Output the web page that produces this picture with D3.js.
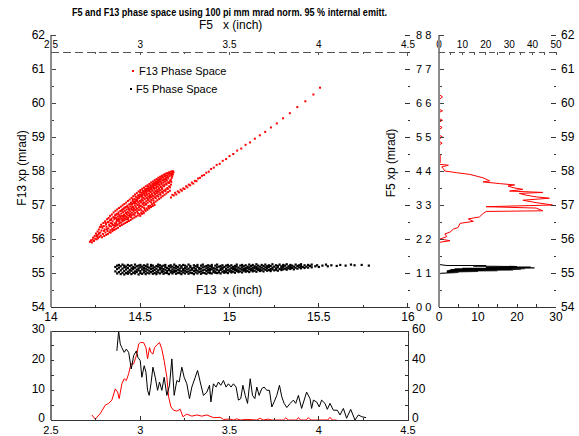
<!DOCTYPE html>
<html>
<head>
<meta charset="utf-8">
<script src="https://cdn.jsdelivr.net/npm/d3@7"></script>
<style>
body { margin: 0; background: #fff; }
text { font-family: "Liberation Sans", Arial, sans-serif; fill: #000; }
</style>
</head>
<body>
<script>
// ---- data ----
const titleText = "F5 and F13 phase space using 100 pi mm mrad norm. 95 % internal emitt.";
const mainYTicks = [54, 55, 56, 57, 58, 59, 60, 61, 62];
const mainXTicks = [14, 14.5, 15, 15.5, 16];
const topXTicks = [2.5, 3, 3.5, 4, 4.5];
const rightTickLabels = ["0 0", "1 1", "2 2", "3 3", "4 4", "5 5", "6 6", "7 7", "8 8"];
const sideTopTicks = [0, 10, 20, 30, 40, 50];
const sideBotTicks = [0, 10, 20, 30];
const histXTicks = [2.5, 3, 3.5, 4, 4.5];
const histLeftTicks = [0, 10, 20, 30];
const histRightTicks = [0, 20, 40, 60];

// F13 phase space (x inch, xp mrad)
const f13Points = [
[14.218,55.92],[14.224,55.96],[14.229,55.90],[14.233,55.98],[14.236,56.04],[14.241,55.94],[14.245,56.09],[14.247,56.01],
[14.252,56.16],[14.255,55.99],[14.258,56.07],[14.261,56.22],[14.263,56.02],[14.266,56.13],[14.268,56.28],[14.271,56.06],
[14.274,56.35],[14.276,56.19],[14.279,56.10],[14.281,56.42],[14.283,56.25],[14.286,56.05],[14.288,56.33],[14.291,56.15],
[14.293,56.47],[14.296,56.38],[14.298,56.09],[14.301,56.28],[14.303,56.52],[14.305,56.19],[14.308,56.43],[14.309,56.12],
[14.311,56.36],[14.314,56.58],[14.316,56.24],[14.318,56.49],[14.319,56.15],[14.321,56.31],[14.323,56.62],[14.326,56.42],
[14.327,56.20],[14.329,56.55],[14.331,56.68],[14.333,56.26],[14.335,56.47],[14.337,56.37],[14.339,56.60],[14.334,56.19],
[14.341,56.72],[14.343,56.30],[14.345,56.52],[14.347,56.41],[14.349,56.64],[14.344,56.23],[14.351,56.78],[14.353,56.34],
[14.355,56.58],[14.357,56.46],[14.359,56.69],[14.356,56.27],[14.361,56.83],[14.362,56.38],[14.364,56.62],[14.366,56.50],
[14.368,56.74],[14.365,56.30],[14.369,56.56],[14.371,56.87],[14.372,56.41],[14.374,56.66],[14.376,56.54],[14.378,56.78],
[14.375,56.33],[14.379,56.60],[14.381,56.91],[14.382,56.45],[14.384,56.70],[14.386,56.38],[14.388,56.82],[14.385,56.57],
[14.389,56.63],[14.391,56.95],[14.392,56.48],[14.394,56.75],[14.396,56.41],[14.398,56.86],[14.395,56.60],[14.397,56.68],
[14.401,56.99],[14.402,56.52],[14.404,56.79],[14.406,56.44],[14.408,56.90],[14.405,56.64],[14.409,56.72],[14.403,56.58],
[14.411,57.03],[14.412,56.55],[14.414,56.83],[14.416,56.47],[14.418,56.94],[14.415,56.68],[14.419,56.76],[14.413,56.61],
[14.421,57.07],[14.422,56.58],[14.424,56.87],[14.426,56.50],[14.428,56.98],[14.425,56.72],[14.429,56.80],[14.423,56.65],
[14.431,57.12],[14.432,56.62],[14.434,56.92],[14.436,56.53],[14.438,57.02],[14.435,56.77],[14.439,56.85],[14.433,56.69],
[14.441,57.16],[14.442,56.66],[14.444,56.96],[14.446,56.56],[14.448,57.07],[14.445,56.81],[14.449,56.89],[14.443,56.73],
[14.451,57.21],[14.452,56.70],[14.454,57.01],[14.456,56.60],[14.458,57.12],[14.455,56.86],[14.459,56.94],[14.453,56.77],[14.457,57.05],
[14.461,57.26],[14.462,56.73],[14.464,57.06],[14.466,56.63],[14.468,57.17],[14.465,56.90],[14.469,56.99],[14.463,56.81],[14.467,57.10],
[14.471,57.31],[14.472,56.77],[14.474,57.11],[14.476,56.66],[14.478,57.22],[14.475,56.95],[14.479,57.04],[14.473,56.85],[14.477,57.15],
[14.481,57.35],[14.482,56.81],[14.484,57.16],[14.486,56.69],[14.488,57.27],[14.485,57.00],[14.489,57.08],[14.483,56.89],[14.487,57.20],
[14.491,57.40],[14.492,56.85],[14.494,57.21],[14.496,56.73],[14.498,57.31],[14.495,57.04],[14.499,57.12],[14.493,56.93],[14.497,57.25],
[14.501,57.44],[14.502,56.89],[14.504,57.26],[14.506,56.77],[14.508,57.36],[14.505,57.08],[14.509,57.17],[14.503,56.97],[14.507,57.30],[14.500,56.68],
[14.511,57.48],[14.512,56.94],[14.514,57.30],[14.516,56.81],[14.518,57.40],[14.515,57.13],[14.519,57.21],[14.513,57.02],[14.517,57.35],[14.510,56.74],
[14.521,57.51],[14.522,56.99],[14.524,57.34],[14.526,56.86],[14.528,57.44],[14.525,57.17],[14.529,57.26],[14.523,57.07],[14.527,57.39],[14.520,56.76],
[14.531,57.55],[14.532,57.03],[14.534,57.38],[14.536,56.90],[14.538,57.48],[14.535,57.21],[14.539,57.30],[14.533,57.11],[14.537,57.43],[14.530,56.82],
[14.541,57.58],[14.542,57.07],[14.544,57.42],[14.546,56.94],[14.548,57.52],[14.545,57.25],[14.549,57.34],[14.543,57.15],[14.547,57.47],[14.540,56.86],
[14.551,57.62],[14.552,57.11],[14.554,57.46],[14.556,56.98],[14.558,57.56],[14.555,57.29],[14.559,57.38],[14.553,57.19],[14.557,57.51],[14.550,56.90],
[14.561,57.66],[14.562,57.15],[14.564,57.50],[14.566,57.02],[14.568,57.60],[14.565,57.33],[14.569,57.42],[14.563,57.23],[14.567,57.55],[14.560,56.94],
[14.571,57.69],[14.572,57.19],[14.574,57.54],[14.576,57.06],[14.578,57.64],[14.575,57.37],[14.579,57.46],[14.573,57.27],[14.577,57.59],[14.570,56.97],
[14.581,57.73],[14.582,57.23],[14.584,57.58],[14.586,57.10],[14.588,57.68],[14.585,57.41],[14.589,57.50],[14.583,57.31],[14.587,57.63],[14.580,57.00],
[14.591,57.76],[14.592,57.27],[14.594,57.62],[14.596,57.14],[14.598,57.71],[14.595,57.45],[14.599,57.54],[14.593,57.35],[14.597,57.67],
[14.601,57.80],[14.602,57.31],[14.604,57.66],[14.606,57.18],[14.608,57.75],[14.605,57.49],[14.609,57.58],[14.603,57.39],[14.607,57.71],
[14.611,57.83],[14.612,57.35],[14.614,57.70],[14.616,57.22],[14.618,57.78],[14.615,57.53],[14.619,57.62],[14.613,57.43],
[14.621,57.86],[14.622,57.39],[14.624,57.73],[14.626,57.26],[14.628,57.81],[14.625,57.57],[14.629,57.66],[14.623,57.47],
[14.631,57.89],[14.632,57.42],[14.634,57.76],[14.636,57.30],[14.638,57.84],[14.635,57.60],[14.639,57.69],
[14.641,57.92],[14.642,57.46],[14.644,57.79],[14.646,57.34],[14.648,57.87],[14.645,57.63],[14.649,57.72],
[14.651,57.94],[14.652,57.50],[14.654,57.82],[14.656,57.38],[14.658,57.90],[14.655,57.66],
[14.661,57.96],[14.662,57.55],[14.664,57.85],[14.666,57.42],[14.668,57.92],[14.665,57.70],
[14.671,57.98],[14.672,57.60],[14.674,57.88],[14.676,57.80],[14.678,57.95],[14.681,58.00],[14.683,57.90],[14.686,57.96],
[14.672,57.22],[14.680,57.30],[14.688,57.28],[14.695,57.36],[14.702,57.31],[14.710,57.40],[14.718,57.37],[14.726,57.45],
[14.733,57.42],[14.741,57.49],[14.748,57.47],[14.757,57.55],[14.764,57.52],[14.772,57.60],[14.780,57.58],[14.789,57.66],
[14.797,57.63],[14.806,57.71],[14.815,57.70],[14.824,57.78],[14.835,57.80],[14.846,57.86],[14.858,57.88],[14.870,57.95],
[14.884,57.98],[14.897,58.06],[14.912,58.10],[14.928,58.18],[14.945,58.21],[14.962,58.30],[14.981,58.35],[15.000,58.44],
[15.021,58.50],[15.043,58.60],[15.066,58.66],[15.090,58.77],[15.115,58.84],[15.142,58.95],[15.170,59.05],[15.200,59.15],
[15.232,59.28],[15.265,59.40],[15.300,59.55],[15.338,59.70],[15.380,59.88],[15.425,60.05],[15.470,60.25],[15.507,60.45]
];
// more F13 points inside the dense core
const f13Core = [
[14.257,56.11],[14.269,56.17],[14.284,56.37],[14.297,56.24],[14.306,56.47],[14.313,56.29],[14.322,56.50],[14.328,56.38],
[14.336,56.56],[14.342,56.45],[14.348,56.27],[14.354,56.63],[14.358,56.40],[14.363,56.71],[14.367,56.44],[14.373,56.58],
[14.377,56.73],[14.383,56.51],[14.387,56.66],[14.393,56.83],[14.399,56.55],[14.403,56.87],[14.407,56.68],[14.413,56.92],
[14.417,56.59],[14.422,56.77],[14.427,56.95],[14.431,56.58],[14.436,56.88],[14.441,56.70],[14.446,57.03],[14.449,56.64],
[14.453,56.93],[14.458,57.17],[14.462,56.86],[14.467,56.71],[14.471,57.06],[14.474,57.25],[14.479,56.90],[14.483,57.12],
[14.487,56.76],[14.491,57.29],[14.495,56.98],[14.499,57.38],[14.503,57.13],[14.506,56.84],[14.511,57.24],[14.514,57.42],
[14.518,57.06],[14.522,56.91],[14.526,57.29],[14.529,57.47],[14.533,57.01],[14.536,57.34],[14.541,57.19],[14.544,57.54],
[14.547,56.97],[14.551,57.41],[14.554,57.24],[14.557,57.58],[14.561,57.08],[14.564,57.45],[14.567,57.28],[14.571,57.62],
[14.574,57.13],[14.577,57.50],[14.581,57.35],[14.584,57.67],[14.587,57.20],[14.591,57.56],[14.594,57.40],[14.597,57.74],
[14.601,57.25],[14.604,57.61],[14.607,57.44],[14.611,57.76],[14.614,57.30],[14.617,57.66],[14.621,57.50],[14.624,57.82],
[14.627,57.36],[14.631,57.72],[14.634,57.55],[14.637,57.88],[14.641,57.41],[14.644,57.75],[14.647,57.60],[14.651,57.86],
[14.654,57.47],[14.657,57.78],[14.661,57.65],[14.664,57.93],[14.667,57.52],[14.671,57.74],[14.674,57.68],[14.677,57.92],
[14.679,57.84],[14.684,57.97]
];

// F5 phase space, one column per x: [x, xp, xp, ...]
const f5Columns = [
[14.36,55.05,55.18],[14.37,54.99,55.12,55.22],[14.38,55.03,55.16,55.24],[14.39,54.97,55.08,55.20],[14.40,55.01,55.13,55.25],
[14.41,54.96,55.06,55.17,55.22],[14.42,55.00,55.11,55.19],[14.43,54.98,55.04,55.15,55.24],[14.44,55.02,55.09,55.21],
[14.45,54.97,55.07,55.14,55.23],[14.46,55.01,55.12,55.18],[14.47,54.99,55.05,55.16,55.25],[14.48,55.03,55.10,55.20],
[14.49,54.96,55.08,55.14,55.22],[14.50,55.00,55.06,55.17,55.24],[14.51,54.98,55.11,55.19],[14.52,55.02,55.08,55.15,55.23],
[14.53,54.97,55.05,55.13,55.21],[14.54,55.01,55.10,55.18,55.25],[14.55,54.99,55.07,55.16],[14.56,55.03,55.12,55.20,55.24],
[14.57,54.98,55.06,55.14,55.22],[14.58,55.00,55.09,55.17],[14.59,54.97,55.04,55.13,55.21],[14.60,55.02,55.08,55.19,55.25],
[14.61,54.99,55.11,55.16,55.23],[14.62,55.03,55.07,55.14,55.20],[14.63,54.98,55.05,55.12,55.22],[14.64,55.01,55.10,55.18,55.24],
[14.65,55.00,55.06,55.15],[14.66,54.97,55.09,55.13,55.21],[14.67,55.02,55.07,55.17,55.23],[14.68,54.99,55.04,55.11,55.19],
[14.69,55.03,55.08,55.16,55.25],[14.70,54.98,55.06,55.14,55.21],[14.71,55.01,55.10,55.18],[14.72,55.00,55.07,55.13,55.23],
[14.73,54.97,55.05,55.16,55.20],[14.74,55.02,55.09,55.12,55.24],[14.75,54.99,55.07,55.15,55.22],[14.76,55.03,55.11,55.19],
[14.77,54.98,55.05,55.13,55.25],[14.78,55.01,55.08,55.17,55.21],[14.79,55.00,55.10,55.14],[14.80,54.97,55.06,55.16,55.23],
[14.81,55.02,55.09,55.12,55.20],[14.82,54.99,55.07,55.18,55.24],[14.83,55.03,55.11,55.15],[14.84,54.98,55.05,55.13,55.22],
[14.85,55.01,55.08,55.17,55.25],[14.86,55.00,55.10,55.19],[14.87,54.98,55.06,55.14,55.21],[14.88,55.02,55.09,55.16,55.23],
[14.89,55.00,55.07,55.12,55.20],[14.90,54.99,55.11,55.18,55.24],[14.91,55.03,55.08,55.15],[14.92,55.01,55.05,55.13,55.22],
[14.93,55.00,55.10,55.17,55.25],[14.94,55.02,55.07,55.19],[14.95,54.99,55.09,55.14,55.21],[14.96,55.04,55.12,55.16,55.23],
[14.97,55.01,55.06,55.18],[14.98,55.03,55.10,55.13,55.22],[14.99,55.00,55.08,55.17,55.24],[15.00,55.05,55.11,55.20],
[15.01,55.02,55.07,55.15,55.23],[15.02,55.04,55.12,55.18],[15.03,55.01,55.09,55.14,55.21],[15.04,55.06,55.11,55.19,55.25],
[15.05,55.03,55.08,55.16],[15.06,55.05,55.13,55.22],[15.07,55.02,55.10,55.17,55.24],[15.08,55.07,55.12,55.20],
[15.09,55.04,55.09,55.15,55.23],[15.10,55.06,55.14,55.19],[15.11,55.03,55.11,55.17,55.25],[15.12,55.08,55.13,55.21],
[15.13,55.05,55.10,55.16,55.24],[15.14,55.07,55.15,55.20],[15.15,55.04,55.12,55.18,55.26],[15.16,55.09,55.14,55.22],
[15.17,55.06,55.11,55.19],[15.18,55.08,55.16,55.24],[15.19,55.05,55.13,55.21],[15.20,55.10,55.17,55.25],
[15.21,55.07,55.14,55.20],[15.22,55.09,55.18,55.23],[15.23,55.06,55.12,55.21],[15.24,55.11,55.16,55.26],
[15.25,55.08,55.19],[15.26,55.10,55.14,55.23],[15.27,55.07,55.17,55.21],[15.28,55.12,55.25],[15.29,55.09,55.15,55.20],
[15.30,55.11,55.18,55.24],[15.31,55.13,55.22],[15.32,55.10,55.16,55.26],[15.33,55.14,55.20],[15.34,55.12,55.18,55.24],
[15.35,55.15,55.22],[15.36,55.11,55.19],[15.37,55.16,55.25],[15.38,55.13,55.21],[15.39,55.17,55.23],[15.40,55.14,55.20,55.26],
[15.41,55.18],[15.42,55.15,55.23],[15.43,55.19],[15.44,55.16,55.24],[15.45,55.21],[15.46,55.17,55.25],[15.48,55.20],
[15.49,55.23],[15.50,55.18],[15.52,55.22],[15.54,55.25],[15.55,55.20],[15.57,55.23],[15.60,55.21],[15.62,55.24],
[15.65,55.22],[15.68,55.25],[15.70,55.23],[15.74,55.24],[15.78,55.22]
];

// bottom histograms (x inch, counts on left scale)
const histRed = [
[2.729,1.7],[2.748,0.3],[2.776,2.2],[2.804,5.0],[2.823,5.6],[2.841,6.7],[2.860,10.5],[2.873,9.4],[2.882,7.2],[2.897,12.2],
[2.910,13.9],[2.922,13.3],[2.935,15.6],[2.948,18.9],[2.963,18.9],[2.972,20.6],[2.981,22.2],[2.991,25.6],[3.000,26.1],[3.019,26.1],
[3.032,24.4],[3.041,20.6],[3.052,24.4],[3.060,22.8],[3.071,22.2],[3.080,24.4],[3.093,25.3],[3.108,26.1],[3.121,23.9],[3.134,20.0],
[3.149,14.4],[3.159,7.8],[3.172,4.4],[3.187,3.3],[3.205,3.0],[3.224,3.6],[3.239,1.1],[3.261,2.0],[3.289,1.3],[3.317,1.7],
[3.345,1.3],[3.373,1.7],[3.410,0.8],[3.448,0.9],[3.466,0.2],[3.504,0.3],[3.522,0],[3.541,0.4],[3.560,0],[3.597,0.2],
[3.653,0],[3.672,0.6],[3.690,0],[3.718,0.3],[3.737,0],[3.802,0],[3.815,0.7],[3.830,0],[3.875,0],[3.886,0.8],[3.898,0],
[3.930,0],[3.942,0.8],[3.955,0],[4.050,0],[4.063,0.9],[4.076,0],[4.100,0]
];
const histBlack = [
[2.869,23.3],[2.879,30.0],[2.888,25.6],[2.897,24.4],[2.910,22.8],[2.922,23.9],[2.935,22.8],[2.950,17.2],[2.963,21.7],[2.978,23.3],
[2.987,21.1],[3.000,20.0],[3.009,14.4],[3.022,18.3],[3.032,16.1],[3.041,10.0],[3.050,8.3],[3.060,12.2],[3.071,17.8],[3.084,14.4],
[3.097,10.0],[3.108,12.8],[3.121,10.0],[3.134,14.4],[3.149,8.3],[3.164,11.7],[3.177,20.6],[3.190,8.3],[3.205,13.3],[3.218,12.8],
[3.233,17.8],[3.246,14.4],[3.261,12.2],[3.276,7.2],[3.289,11.1],[3.308,14.4],[3.321,16.7],[3.336,12.8],[3.354,8.3],[3.373,9.4],
[3.388,11.7],[3.396,6.1],[3.410,12.2],[3.425,11.1],[3.438,12.8],[3.451,11.7],[3.466,13.3],[3.481,11.1],[3.494,12.2],[3.509,11.1],
[3.522,12.2],[3.537,11.1],[3.550,6.7],[3.563,7.2],[3.575,11.7],[3.588,8.3],[3.601,5.6],[3.616,13.9],[3.629,8.3],[3.642,7.2],
[3.653,11.1],[3.666,8.3],[3.681,10.6],[3.694,11.1],[3.709,10.0],[3.724,10.0],[3.737,4.4],[3.750,6.1],[3.765,8.3],[3.780,11.7],
[3.793,7.8],[3.806,5.6],[3.821,4.2],[3.840,5.6],[3.858,6.7],[3.871,5.6],[3.886,8.3],[3.904,3.9],[3.932,9.4],[3.951,7.2],
[3.960,3.9],[3.970,6.7],[3.988,6.1],[4.003,4.4],[4.016,6.7],[4.035,5.6],[4.048,3.6],[4.063,5.6],[4.082,3.3],[4.104,3.3],
[4.119,1.7],[4.138,3.9],[4.156,0.6],[4.179,3.6],[4.203,0],[4.222,1.7],[4.241,1.1],[4.265,0.8]
];

// side histograms (xp mrad, counts)
const sideRed = [
[60.25,0],[60.18,0.9],[60.10,0],[59.82,0],[59.77,0.9],[59.72,0],[59.55,0],[59.49,0.9],[59.43,0],[59.33,0],[59.28,0.8],
[59.22,0],[59.06,0],[59.00,0.9],[58.94,0],[58.88,0],[58.82,0.8],[58.76,0],[58.50,0],[58.48,0.3],[58.25,0.3],[58.20,0],
[58.17,2.4],[58.12,0.7],[58.07,1.1],[58.00,1.5],[57.95,4.5],[57.90,7.9],[57.80,11.3],[57.71,13.0],[57.68,11.3],[57.63,15.5],
[57.59,19.4],[57.56,17.7],[57.51,19.0],[57.46,21.5],[57.41,18.1],[57.37,26.6],[57.34,20.6],[57.29,22.3],[57.24,24.9],
[57.20,28.3],[57.14,21.5],[57.07,24.9],[57.00,29.1],[56.95,12.1],[56.91,24.9],[56.83,26.6],[56.81,12.1],[56.75,11.3],
[56.65,10.4],[56.59,7.5],[56.52,8.8],[56.46,5.4],[56.34,4.9],[56.29,3.7],[56.20,2.8],[56.15,1.5],[56.07,2.0],[56.00,0.3],
[55.95,2.8],[55.90,0]
];
const sideBlack = [
[55.25,0],[55.22,2.0],[55.22,12.1],[55.20,8.8],[55.19,20.0],[55.18,14.0],[55.17,23.5],[55.16,12.0],[55.15,24.5],[55.14,6.0],
[55.13,22.0],[55.12,4.0],[55.11,21.0],[55.10,3.0],[55.09,19.0],[55.08,2.5],[55.07,15.0],[55.06,2.0],[55.05,10.0],[55.03,2.0],
[55.02,5.0],[55.00,2.0],[54.99,0.5],[54.97,0]
];

// ---- scales ----
const W = 579, H = 436;
const svg = d3.select("body").append("svg").attr("width", W).attr("height", H);

const xMain = d3.scaleLinear().domain([14, 16]).range([51, 408]);
const yMain = d3.scaleLinear().domain([54, 62]).range([307, 35]);
const xTop = d3.scaleLinear().domain([2.5, 4.5]).range([51, 408]);
const xSideTop = d3.scaleLinear().domain([0, 50]).range([439, 556]);
const xSideBot = d3.scaleLinear().domain([0, 30]).range([439, 556]);
const xHist = d3.scaleLinear().domain([2.5, 4.5]).range([51, 408]);
const yHistL = d3.scaleLinear().domain([0, 30]).range([420, 331]);
const yHistR = d3.scaleLinear().domain([0, 60]).range([420, 331]);

// ---- helpers ----
function hTicks(vals, scale, y, len, color) {   // ticks on a horizontal axis
  svg.append("g").selectAll("line").data(vals).join("line")
    .attr("x1", d => scale(d)).attr("x2", d => scale(d))
    .attr("y1", y).attr("y2", y + len)
    .attr("stroke", color || "#222").attr("shape-rendering", "crispEdges");
}
function vTicks(vals, scale, x, len, color) {   // ticks on a vertical axis
  svg.append("g").selectAll("line").data(vals).join("line")
    .attr("y1", d => scale(d)).attr("y2", d => scale(d))
    .attr("x1", x).attr("x2", x + len)
    .attr("stroke", color || "#222").attr("shape-rendering", "crispEdges");
}
function hLabels(vals, scale, y, size, fmt) {
  svg.append("g").selectAll("text").data(vals).join("text")
    .attr("x", d => scale(d)).attr("y", y)
    .attr("text-anchor", "middle").attr("font-size", size)
    .text(fmt || (d => d));
}
function vLabels(vals, scale, x, anchor, size, fmt, dy) {
  svg.append("g").selectAll("text").data(vals).join("text")
    .attr("x", x).attr("y", d => scale(d)).attr("dy", dy || "0.35em")
    .attr("text-anchor", anchor).attr("font-size", size)
    .text(fmt || (d => d));
}
function seg(x1, y1, x2, y2, color, w, dash) {
  const l = svg.append("line").attr("x1", x1).attr("y1", y1).attr("x2", x2).attr("y2", y2)
    .attr("stroke", color).attr("stroke-width", w || 1).attr("shape-rendering", "crispEdges");
  if (dash) l.attr("stroke-dasharray", dash);
}
const halves = (a, b) => d3.range(a, b + 0.001, 0.5);
const quarters = (a, b) => d3.range(a, b + 0.001, 0.25);

// ---- title & axis titles ----
svg.append("text").attr("x", 72).attr("y", 16).attr("font-size", 10).attr("font-weight", "bold")
  .attr("textLength", 315).attr("lengthAdjust", "spacingAndGlyphs").text(titleText);
svg.append("text").attr("x", 199).attr("y", 29).attr("font-size", 12).text("F5");
svg.append("text").attr("x", 223).attr("y", 29).attr("font-size", 12).text("x (inch)");
svg.append("text").attr("x", 196).attr("y", 294).attr("font-size", 12).text("F13");
svg.append("text").attr("x", 223).attr("y", 294).attr("font-size", 12).text("x (inch)");
svg.append("text").attr("transform", "translate(26,168) rotate(-90)")
  .attr("text-anchor", "middle").attr("font-size", 12).text("F13  xp (mrad)");
svg.append("text").attr("transform", "translate(395,163) rotate(-90)")
  .attr("text-anchor", "middle").attr("font-size", 12).text("F5  xp (mrad)");

// ---- main scatter panel ----
vLabels(mainYTicks, yMain, 45, "end", 12);
hLabels(mainXTicks, xMain, 321, 12);
hLabels(topXTicks, xTop, 48, 10);
vLabels(d3.range(0, 9), d => yMain(d + 54), 416, "start", 11, d => rightTickLabels[d]);

// legend
svg.append("rect").attr("x", 132).attr("y", 70).attr("width", 2).attr("height", 2).attr("fill", "#ff0000");
svg.append("text").attr("x", 139).attr("y", 75).attr("font-size", 11).text("F13 Phase Space");
svg.append("rect").attr("x", 130).attr("y", 88).attr("width", 2).attr("height", 2).attr("fill", "#000");
svg.append("text").attr("x", 136).attr("y", 93).attr("font-size", 11).text("F5 Phase Space");

// points
const f5Points = f5Columns.flatMap(c => c.slice(1).map(v => [c[0], v]));
svg.append("g").selectAll("rect").data(f5Points).join("rect")
  .attr("x", d => xMain(d[0]) - 1).attr("y", d => yMain(d[1]) - 1)
  .attr("width", 2.2).attr("height", 2.2).attr("fill", "#000");
svg.append("g").selectAll("rect").data(f13Points.concat(f13Core)).join("rect")
  .attr("x", d => xMain(d[0]) - 1).attr("y", d => yMain(d[1]) - 1)
  .attr("width", 2).attr("height", 2).attr("fill", "#ff0000");

// axes of main panel
seg(51, 35, 51, 307, "#8c8c8c", 2);
seg(51, 35, 55, 35, "#444");
vTicks(mainYTicks, yMain, 52, 4, "#444");
vTicks(halves(54.5, 61.5), yMain, 52, 2, "#444");
seg(51, 307, 408, 307, "#333");
hTicks(halves(14.5, 15.5), xMain, 307, -4, "#333");
hTicks(quarters(14.25, 15.75).filter(v => v % 0.5), xMain, 307, -2, "#333");
seg(407.5, 303, 407.5, 307, "#333");
seg(51, 52, 408, 52, "#555", 1, "8,4");
hTicks(halves(3, 4), xTop, 52, 3, "#555");
hTicks(quarters(2.75, 4.25).filter(v => v % 0.5), xTop, 52, 2, "#555");
seg(407.5, 52, 407.5, 56, "#555");
vTicks(mainYTicks, yMain, 405, 5, "#333");
vTicks(halves(54.5, 61.5), yMain, 408, 2, "#333");

// ---- side panel (xp projections) ----
hLabels(sideTopTicks, xSideTop, 48, 10);
hLabels(sideBotTicks, xSideBot, 321, 12);
vLabels(mainYTicks, yMain, 561, "start", 12);

const sideLine = d3.line().x(d => xSideBot(d[1])).y(d => yMain(d[0]));
svg.append("path").attr("d", sideLine(sideRed)).attr("fill", "none").attr("stroke", "#ff0000").attr("stroke-width", 1);
svg.append("path").attr("d", sideLine(sideBlack)).attr("fill", "none").attr("stroke", "#000").attr("stroke-width", 1.2);

seg(439, 35, 439, 307, "#8c8c8c", 2);
seg(439, 35, 443, 35, "#444");
vTicks(mainYTicks, yMain, 440, 4, "#444");
vTicks(halves(54.5, 61.5), yMain, 440, 2, "#444");
seg(439, 52, 556, 52, "#555", 1, "6,4");
hTicks(d3.range(5, 51, 5), xSideTop, 52, 3, "#555");
seg(439, 307, 556, 307, "#333");
hTicks(d3.range(5, 30, 5), xSideBot, 307, -3, "#333");
vTicks(mainYTicks, yMain, 551, 5, "#333");
vTicks(halves(54.5, 61.5), yMain, 554, 2, "#333");

// ---- bottom panel (x projections) ----
vLabels(histLeftTicks, yHistL, 45, "end", 12, null, "0.2em");
vLabels(histRightTicks, yHistR, 412, "start", 12, null, "0.2em");
hLabels(histXTicks, xHist, 434, 11);

const histLine = d3.line().x(d => xHist(d[0])).y(d => yHistL(d[1]));
svg.append("path").attr("d", histLine(histRed)).attr("fill", "none").attr("stroke", "#ff0000").attr("stroke-width", 1);
svg.append("path").attr("d", histLine(histBlack)).attr("fill", "none").attr("stroke", "#000").attr("stroke-width", 1);

svg.append("rect").attr("x", 51).attr("y", 331).attr("width", 357).attr("height", 89)
  .attr("fill", "none").attr("stroke", "#333").attr("shape-rendering", "crispEdges");
seg(51, 331, 51, 420, "#777", 1.5);
vTicks(d3.range(5, 30, 5), yHistL, 51, 3, "#333");
vTicks(d3.range(10, 60, 10), yHistR, 408, -3, "#333");
hTicks(halves(3, 4), xHist, 420, -4, "#333");
hTicks(quarters(2.75, 4.25).filter(v => v % 0.5), xHist, 420, -2, "#333");
hTicks(halves(3, 4), xHist, 331, 4, "#333");
hTicks(quarters(2.75, 4.25).filter(v => v % 0.5), xHist, 331, 2, "#333");
</script>
</body>
</html>
